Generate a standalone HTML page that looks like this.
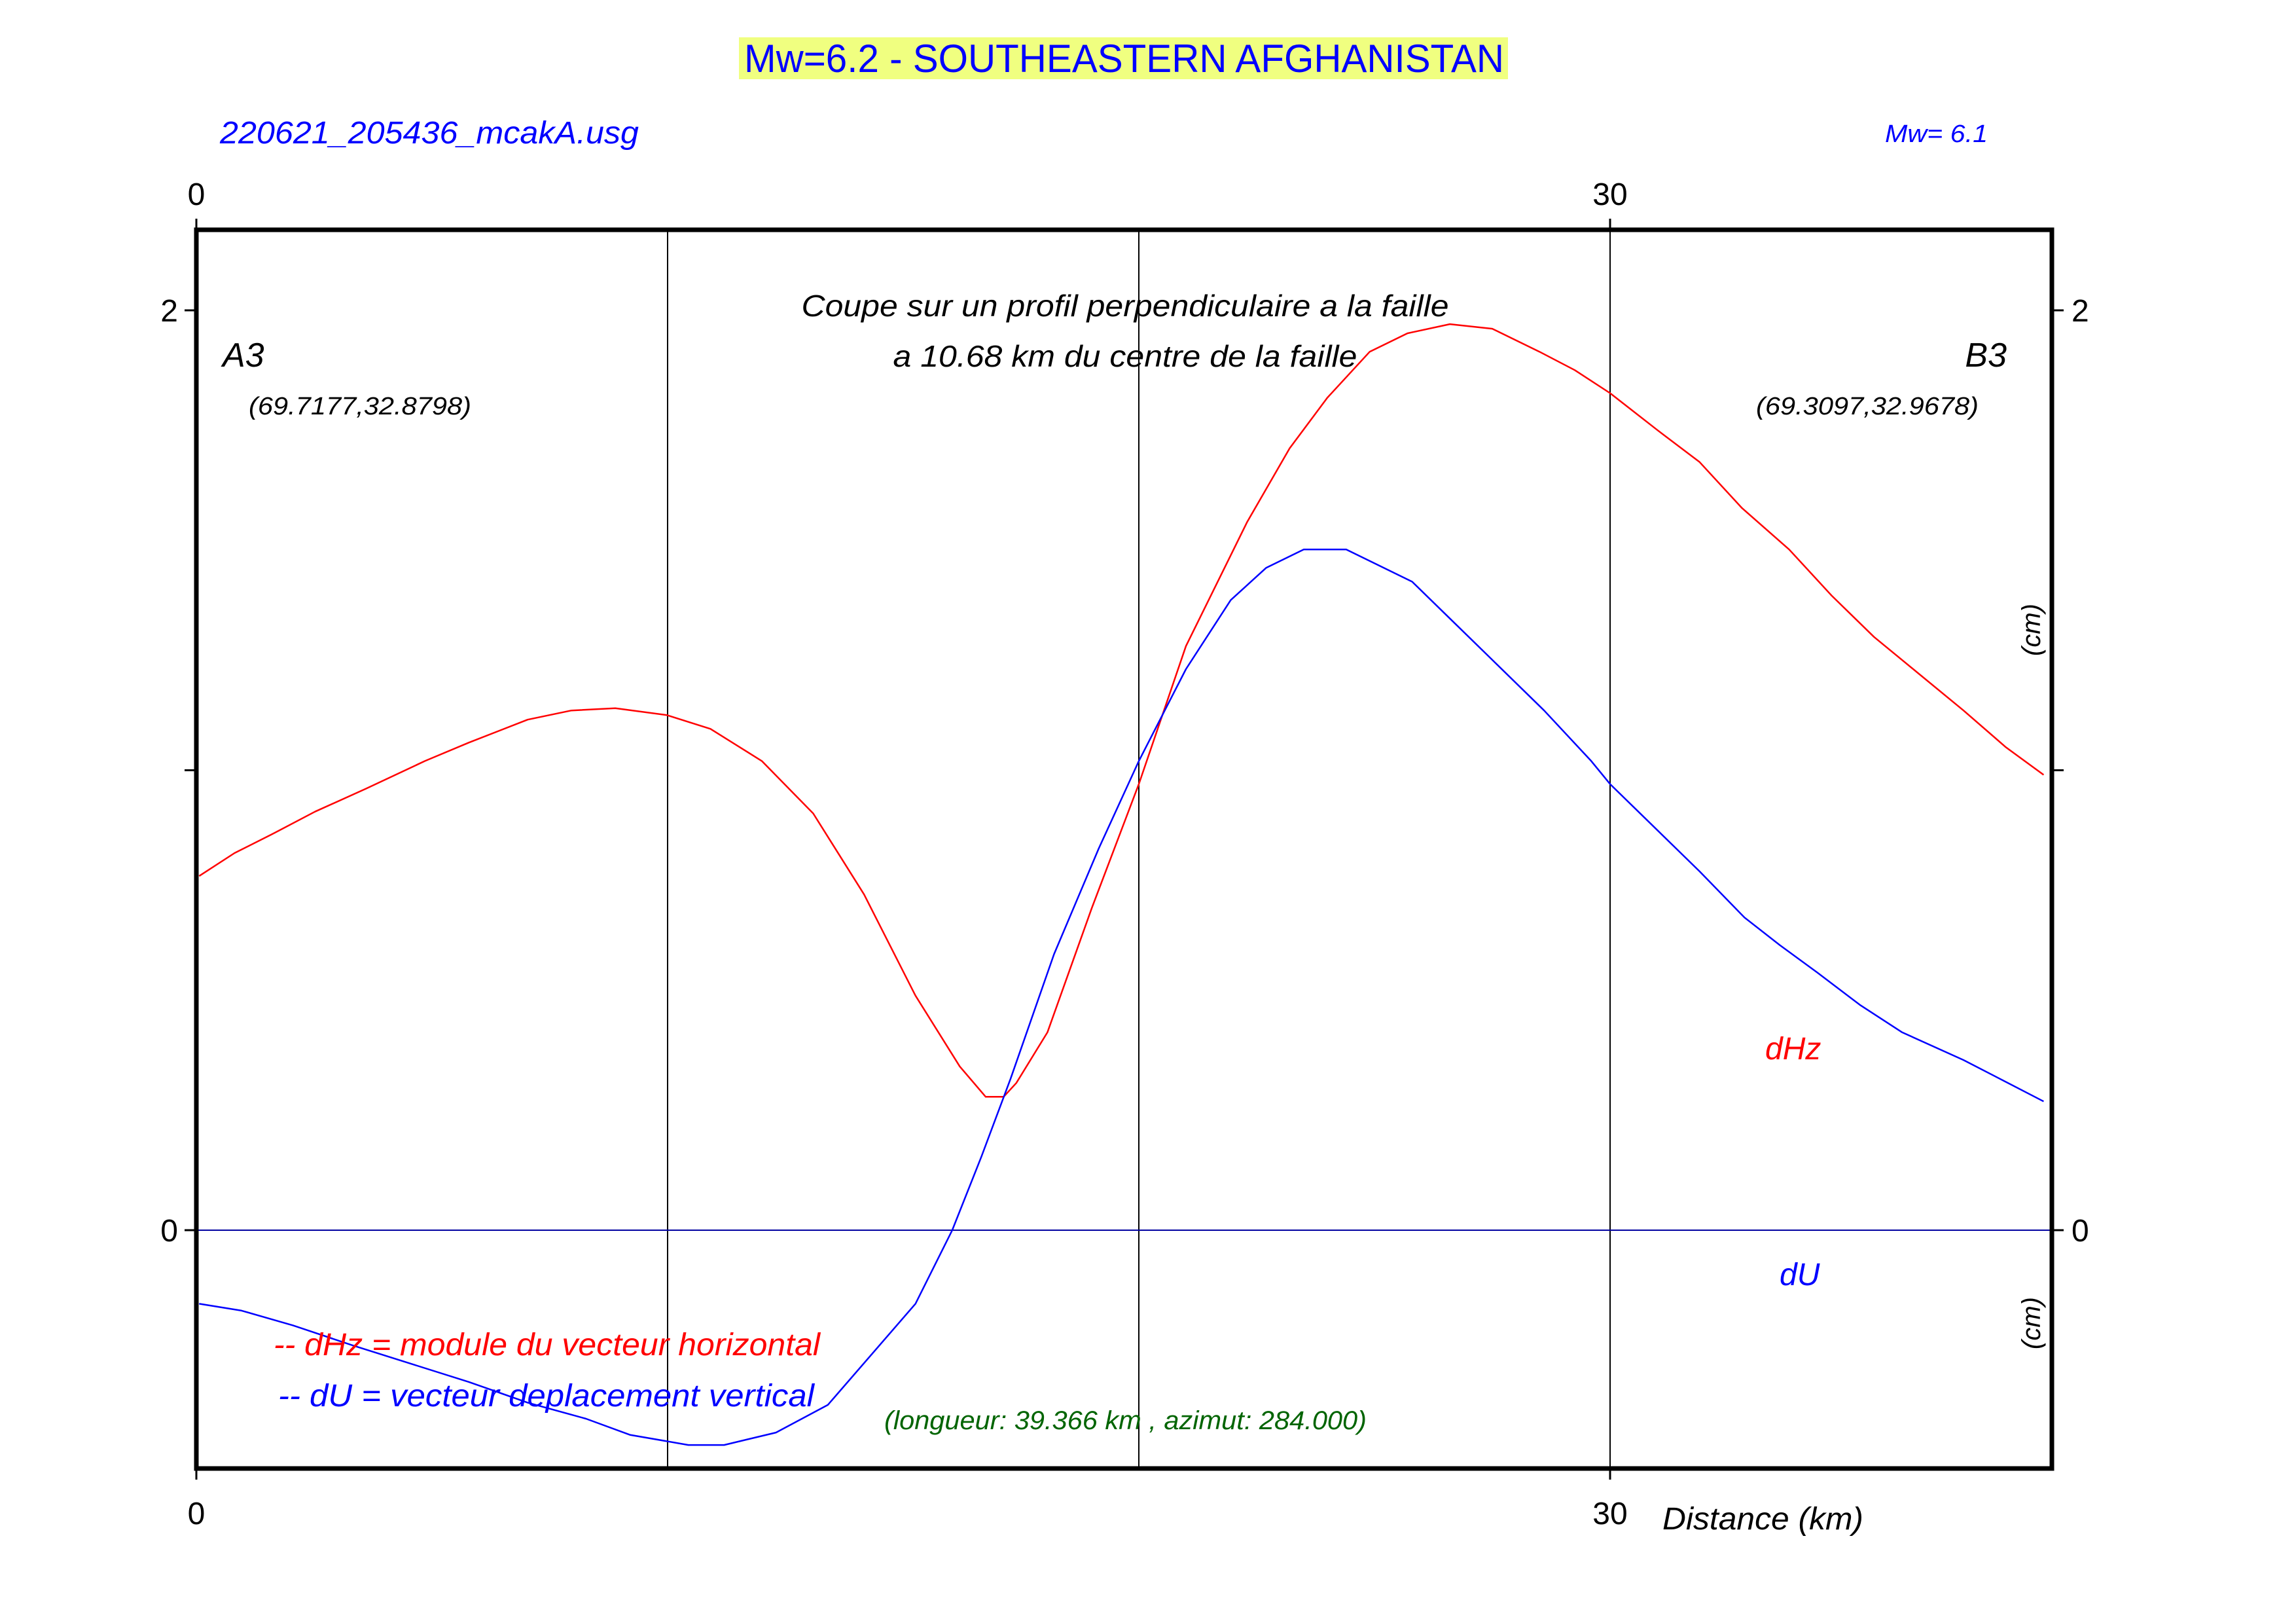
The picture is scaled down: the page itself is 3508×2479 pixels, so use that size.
<!DOCTYPE html>
<html><head><meta charset="utf-8"><style>
html,body{margin:0;padding:0;background:#fff;width:3508px;height:2479px;overflow:hidden}
svg{display:block}
text{font-family:"Liberation Sans",Arial,sans-serif}
.it{font-style:italic}
</style></head><body>
<svg id="chart" width="3508" height="2479" viewBox="0 0 3508 2479" xmlns="http://www.w3.org/2000/svg">
<rect x="1129" y="57" width="1175" height="64" fill="#f0ff80"/>
<text x="1137" y="110" font-size="60" fill="#0000ff" textLength="1161" lengthAdjust="spacingAndGlyphs">Mw=6.2 - SOUTHEASTERN AFGHANISTAN</text>
<text class="it" x="336" y="219" font-size="48" fill="#0000ff" textLength="640" lengthAdjust="spacingAndGlyphs">220621_205436_mcakA.usg</text>
<text class="it" x="2880" y="217" font-size="38" fill="#0000ff" textLength="157" lengthAdjust="spacingAndGlyphs">Mw= 6.1</text>
<g id="grid"></g>
<g id="series"></g>
<rect x="300" y="351" width="2835" height="1892" fill="none" stroke="#000" stroke-width="7"/>
<g id="axes"></g>
<text class="it" x="1719" y="483" font-size="46" fill="#000" text-anchor="middle" textLength="989" lengthAdjust="spacingAndGlyphs">Coupe sur un profil perpendiculaire a la faille</text>
<text class="it" x="1719" y="560" font-size="46" fill="#000" text-anchor="middle" textLength="709" lengthAdjust="spacingAndGlyphs">a 10.68 km du centre de la faille</text>
<text class="it" x="340" y="560" font-size="52" fill="#000">A3</text>
<text class="it" x="3066" y="560" font-size="52" fill="#000" text-anchor="end">B3</text>
<text class="it" x="380" y="633" font-size="38" fill="#000" textLength="340" lengthAdjust="spacingAndGlyphs">(69.7177,32.8798)</text>
<text class="it" x="2683" y="633" font-size="38" fill="#000" textLength="340" lengthAdjust="spacingAndGlyphs">(69.3097,32.9678)</text>
<text class="it" font-size="40" fill="#000" text-anchor="middle" transform="translate(3117,962) rotate(-90)">(cm)</text>
<text class="it" font-size="40" fill="#000" text-anchor="middle" transform="translate(3117,2021) rotate(-90)">(cm)</text>
<text class="it" x="2697" y="1618" font-size="48" fill="#ff0000">dHz</text>
<text class="it" x="2719" y="1963" font-size="48" fill="#0000ff">dU</text>
<text class="it" x="418" y="2070" font-size="48" fill="#ff0000" textLength="835" lengthAdjust="spacingAndGlyphs">-- dHz = module du vecteur horizontal</text>
<text class="it" x="425" y="2148" font-size="48" fill="#0000ff" textLength="819" lengthAdjust="spacingAndGlyphs">-- dU =  vecteur deplacement vertical</text>
<text class="it" x="1351" y="2183" font-size="40" fill="#006400" textLength="737" lengthAdjust="spacingAndGlyphs">(longueur: 39.366 km , azimut: 284.000)</text>
<text class="it" x="2540" y="2336" font-size="48" fill="#000" textLength="307" lengthAdjust="spacingAndGlyphs">Distance (km)</text>
</svg>
<script>
const xTicks = [0, 30];
const xGrid = [10, 20, 30];
const yTicks = [0, 1, 2];
const yTickLabels = ["0", "", "2"];
const dhzX = [0.06,0.81,1.59,2.52,3.6,4.85,5.78,7.03,7.96,8.89,9.98,10.91,12.0,13.09,14.17,15.26,16.2,16.75,17.13,17.4,18.06,19.0,20.0,21.0,22.3,23.2,24.0,24.9,25.7,26.6,27.5,28.5,29.25,30.0,31.0,31.9,32.8,33.8,34.7,35.6,36.55,37.5,38.4,39.2];
const dhzY = [0.77,0.82,0.86,0.91,0.96,1.02,1.06,1.11,1.13,1.135,1.12,1.09,1.02,0.906,0.73,0.51,0.356,0.29,0.29,0.32,0.43,0.70,0.97,1.27,1.54,1.70,1.81,1.91,1.95,1.97,1.96,1.91,1.87,1.82,1.74,1.67,1.57,1.48,1.38,1.29,1.21,1.13,1.05,0.99];
const duX = [0.06,0.96,2.05,3.3,4.54,5.78,7.03,8.27,9.2,10.44,11.2,12.3,13.4,14.5,15.26,16.04,16.66,17.28,18.2,19.15,20.0,21.0,21.95,22.7,23.5,24.4,25.8,26.6,27.5,28.6,29.6,30.0,31.0,31.9,32.85,33.6,34.4,35.3,36.2,37.5,39.2];
const duY = [-0.16,-0.175,-0.207,-0.25,-0.29,-0.33,-0.375,-0.41,-0.445,-0.467,-0.467,-0.44,-0.38,-0.25,-0.16,0,0.16,0.33,0.60,0.83,1.02,1.22,1.37,1.44,1.48,1.48,1.41,1.33,1.24,1.13,1.02,0.97,0.87,0.78,0.68,0.62,0.56,0.49,0.43,0.37,0.28];

const L=300,R=3135,T=351,B=2243;
function sx(v){return L+v*72;}
function sy(v){return 1879-v*702.5;}
const NS="http://www.w3.org/2000/svg";
function mk(tag,attrs,parent){const e=document.createElementNS(NS,tag);for(const k in attrs)e.setAttribute(k,attrs[k]);parent.appendChild(e);return e;}
const grid=document.getElementById('grid'),axes=document.getElementById('axes'),series=document.getElementById('series');

xGrid.forEach(v=>{
  const l=mk('line',{x1:sx(v),x2:sx(v),y1:T,y2:B,stroke:'#000','stroke-width':2},grid);
  
  
});
const z=mk('line',{x1:L,x2:R,y1:sy(0),y2:sy(0),stroke:'#0000a0','stroke-width':2},grid);



xTicks.forEach(v=>{
  [[T-17,T],[B,B+17]].forEach(p=>{
    const t=mk('line',{x1:sx(v),x2:sx(v),y1:p[0],y2:p[1],stroke:'#000','stroke-width':3},axes);
    
    
  });
  [313,2328].forEach(yy=>{
    const t=mk('text',{x:sx(v),y:yy,'font-size':48,fill:'#000','text-anchor':'middle'},axes);
    t.textContent=String(v);
    
    
  });
});
yTicks.forEach((v,i)=>{
  [[L-18,L],[R,R+18]].forEach(p=>{
    const t=mk('line',{x1:p[0],x2:p[1],y1:sy(v),y2:sy(v),stroke:'#000','stroke-width':3},axes);
    
    
  });
  const a=mk('text',{x:L-28,y:sy(v)+17,'font-size':48,fill:'#000','text-anchor':'end'},axes);
  a.textContent=yTickLabels[i];
  
  
  const b=mk('text',{x:R+30,y:sy(v)+17,'font-size':48,fill:'#000'},axes);
  b.textContent=yTickLabels[i];
  
  
});

function pts(xs,ys){return xs.map((x,i)=>sx(x).toFixed(1)+','+sy(ys[i]).toFixed(1)).join(' ');}
const p1=mk('polyline',{points:pts(dhzX,dhzY),fill:'none',stroke:'#ff0000','stroke-width':2.5,'stroke-linejoin':'round'},series);


const p2=mk('polyline',{points:pts(duX,duY),fill:'none',stroke:'#0000ff','stroke-width':2.5,'stroke-linejoin':'round'},series);


</script>
</body></html>
